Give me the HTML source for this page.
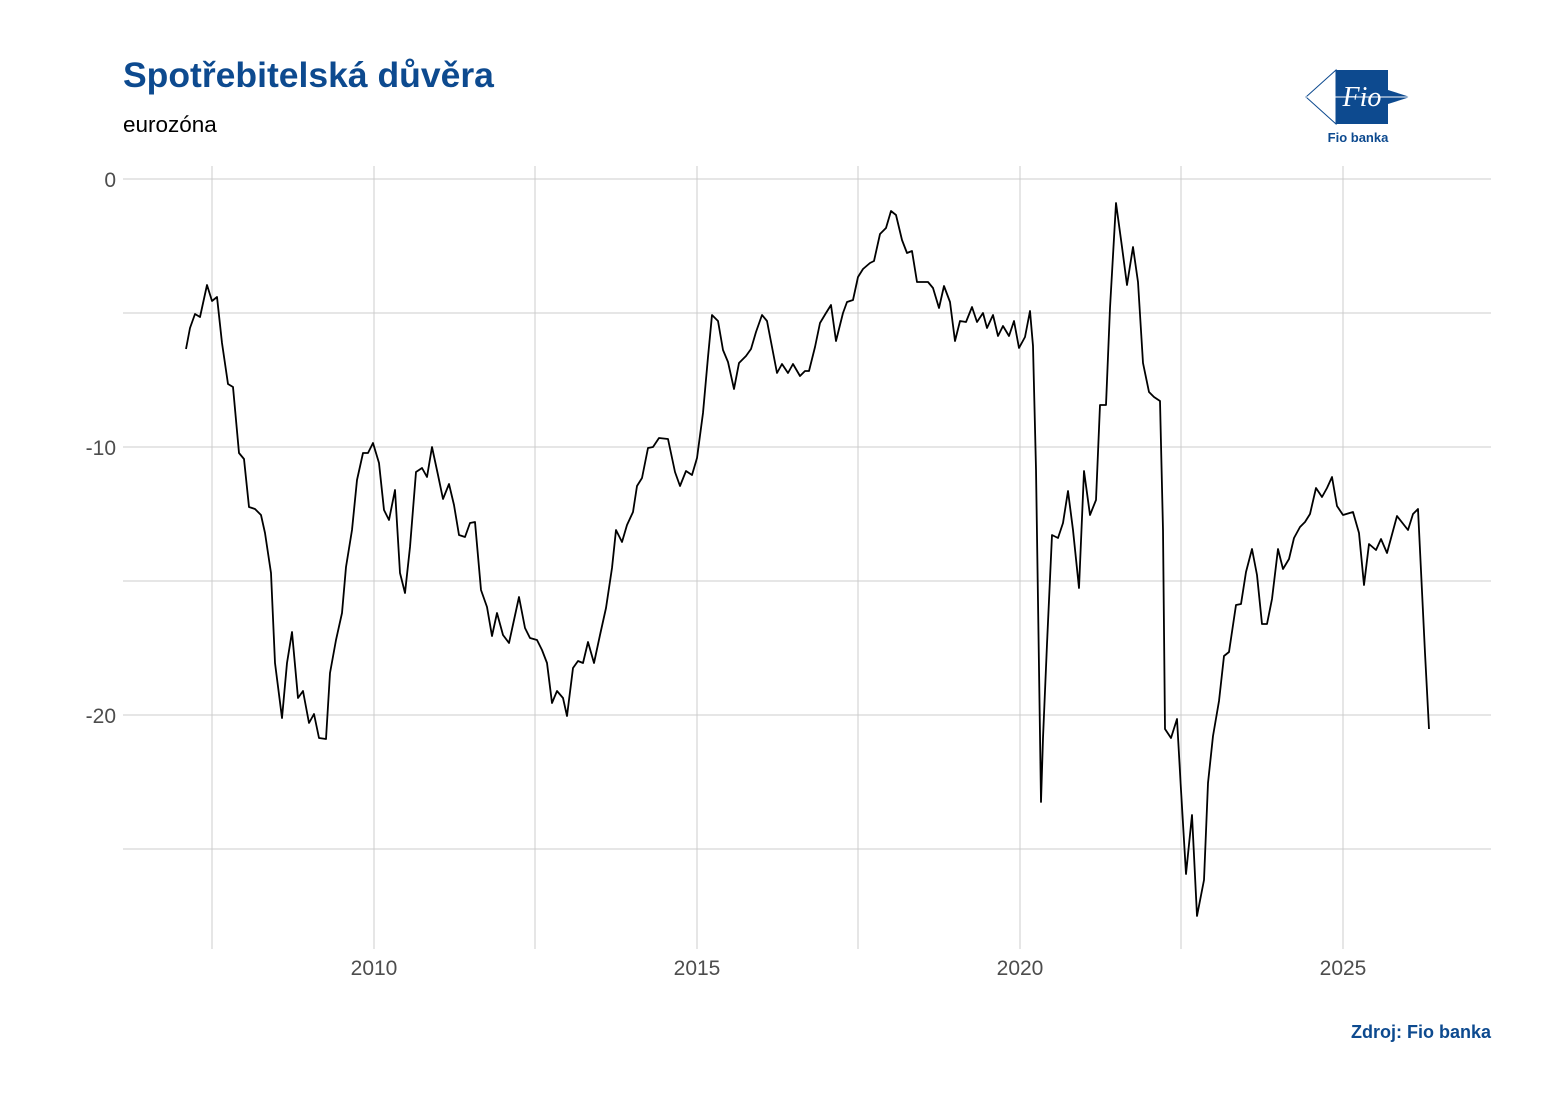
<!DOCTYPE html>
<html><head><meta charset="utf-8"><style>
body{margin:0;background:#fff;}
svg text{font-family:"Liberation Sans",Arial,sans-serif;}
</style></head><body>
<svg width="1551" height="1101" viewBox="0 0 1551 1101" xmlns="http://www.w3.org/2000/svg">
<rect width="1551" height="1101" fill="#fff"/>
<text x="123" y="87" font-size="35.5" font-weight="bold" fill="#0d4a8f">Spotřebitelská důvěra</text>
<text x="123" y="132" font-size="22.5" fill="#000">eurozóna</text>
<g>
<polygon points="1306,97 1336,70 1336,124" fill="#fff" stroke="#0d4a8f" stroke-width="1"/>
<polygon points="1336,70 1388,70 1388,124 1336,124" fill="#0d4a8f"/>
<polygon points="1388,90 1410,97 1388,104" fill="#0d4a8f"/>
<line x1="1306" y1="97" x2="1410" y2="97" stroke="#fff" stroke-width="1"/>
<text x="1362" y="106" font-size="28" font-style="italic" fill="#fff" text-anchor="middle" style="font-family:'Liberation Serif',serif">Fio</text>
<text x="1358" y="142" font-size="13" font-weight="bold" fill="#0d4a8f" text-anchor="middle">Fio banka</text>
</g>
<g stroke="#cccccc" stroke-width="1" fill="none">
<line x1="123" y1="179" x2="1491" y2="179"/><line x1="123" y1="313" x2="1491" y2="313"/>
<line x1="123" y1="447" x2="1491" y2="447"/><line x1="123" y1="581" x2="1491" y2="581"/>
<line x1="123" y1="715" x2="1491" y2="715"/><line x1="123" y1="849" x2="1491" y2="849"/>
<line x1="212" y1="166" x2="212" y2="949"/><line x1="374" y1="166" x2="374" y2="949"/>
<line x1="535" y1="166" x2="535" y2="949"/><line x1="697" y1="166" x2="697" y2="949"/>
<line x1="858" y1="166" x2="858" y2="949"/><line x1="1020" y1="166" x2="1020" y2="949"/>
<line x1="1181" y1="166" x2="1181" y2="949"/><line x1="1343" y1="166" x2="1343" y2="949"/>
</g>
<g font-size="21" fill="#4d4d4d">
<text x="116" y="187" text-anchor="end">0</text>
<text x="116" y="455" text-anchor="end">-10</text>
<text x="116" y="723" text-anchor="end">-20</text>
<text x="374" y="975" text-anchor="middle">2010</text>
<text x="697" y="975" text-anchor="middle">2015</text>
<text x="1020" y="975" text-anchor="middle">2020</text>
<text x="1343" y="975" text-anchor="middle">2025</text>
</g>
<polyline fill="none" stroke="#000" stroke-width="1.8" stroke-linejoin="round" points="186,349 190,328 195,314 200,317 207,285 212,301 217,297 222,343 228,384 233,387 239,453 244,459 249,507 255,509 261,515 265,533 271,573 275,663 282,718 287,663 292,632 298,698 303,691 309,723 314,714 319,738 326,739 330,673 336,640 342,613 346,567 352,530 357,480 363,453 368,453 373,443 379,463 384,510 389,520 395,490 400,573 405,593 410,547 416,472 422,468 427,477 432,447 438,475 443,499 449,484 454,505 459,535 465,537 470,523 475,522 481,590 487,607 492,636 497,613 503,635 509,643 514,620 519,597 525,628 530,638 537,640 542,650 547,663 552,703 557,691 563,698 567,716 573,668 578,661 583,663 588,642 594,663 600,635 606,608 612,568 616,530 622,542 627,525 633,512 637,486 642,478 648,448 653,447 659,438 668,439 675,472 680,486 686,471 692,475 697,458 703,413 708,357 712,315 718,321 723,350 728,362 734,389 739,363 746,356 751,349 756,332 762,315 767,321 772,347 777,373 782,364 788,373 793,364 800,376 805,371 809,371 815,347 820,323 826,313 831,305 836,341 843,313 847,302 853,300 858,277 863,269 870,263 874,261 880,234 886,228 891,211 896,215 902,240 907,253 912,251 917,282 928,282 933,288 939,308 944,286 950,302 955,341 960,321 966,322 972,307 977,322 983,313 987,328 993,315 998,336 1003,326 1009,336 1014,321 1019,348 1025,337 1030,311 1033,346 1036,469 1038,601 1041,802 1043,738 1047,644 1052,535 1058,538 1063,523 1068,491 1073,530 1079,588 1084,471 1090,515 1096,500 1100,405 1106,405 1110,308 1116,203 1122,247 1127,285 1133,247 1138,282 1143,363 1149,392 1154,397 1160,401 1163,530 1165,729 1171,738 1177,719 1181,790 1186,874 1192,815 1197,916 1204,880 1208,783 1213,736 1219,701 1224,656 1229,652 1236,605 1241,604 1246,572 1252,549 1257,575 1262,624 1267,624 1272,599 1278,549 1283,569 1289,559 1294,538 1300,527 1305,522 1310,514 1316,488 1322,497 1327,488 1332,477 1337,506 1343,515 1353,512 1359,533 1364,585 1369,544 1376,550 1381,539 1387,553 1397,516 1408,530 1413,514 1418,509 1425,653 1429,729"/>
<text x="1491" y="1038" font-size="18" font-weight="bold" fill="#0d4a8f" text-anchor="end">Zdroj: Fio banka</text>
</svg>
</body></html>
